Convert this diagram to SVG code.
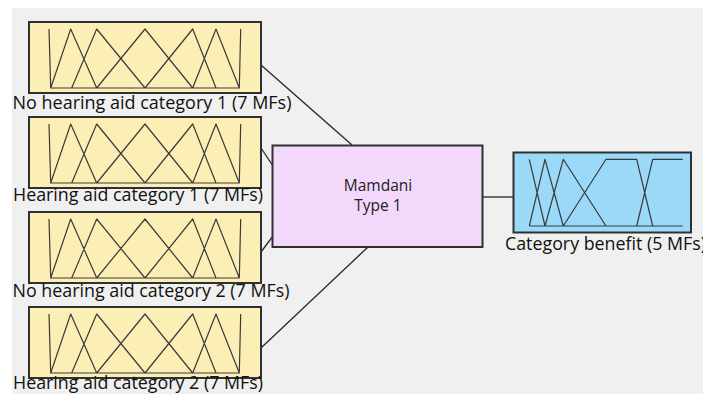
<svg xmlns="http://www.w3.org/2000/svg" width="703" height="394" viewBox="0 0 703 394">
  <defs>
    <style>
      .bg { fill: #f0f0f0; }
      .inbox { fill: #fcefb6; stroke: #303030; stroke-width: 2; }
      .fis { fill: #f2d8fa; stroke: #303030; stroke-width: 2; }
      .outbox { fill: #9bd9f9; stroke: #303030; stroke-width: 2; }
      .mf { fill: none; stroke: #3a3a3a; stroke-width: 1.2; stroke-linejoin: round; }
      .conn { fill: none; stroke: #262626; stroke-width: 1.3; }
      .lbl { font-family: "Open Sans", "Noto Sans", sans-serif; font-size: 17.5px; fill: #111; }
      .ctr { font-family: "Open Sans", "Noto Sans", sans-serif; font-size: 15.5px; fill: #222; text-anchor: middle; }
    </style>
    <path id="mf7" class="mf" d="M50.7,66 H239.3 M49,7 L50.7,66 L70.7,7 L96.7,66 M71.7,66 L96.7,7 L145,66 M96.7,66 L145,7 L192.7,66 M145,66 L192.7,7 L216,66 M192.7,66 L216,7 L239.3,66 L240.7,7"/>
  </defs>
  <rect x="0" y="0" width="703" height="394" fill="#ffffff"/>
  <rect class="bg" x="12" y="8" width="691" height="386"/>

  <g id="connectors">
    <line class="conn" x1="261" y1="65" x2="352" y2="145"/>
    <line class="conn" x1="261" y1="148" x2="273" y2="166"/>
    <line class="conn" x1="261" y1="252" x2="273" y2="236"/>
    <line class="conn" x1="261" y1="348" x2="368" y2="247"/>
    <line class="conn" x1="483" y1="197" x2="514" y2="197"/>
  </g>

  <g id="input1">
    <rect class="inbox" x="29" y="22" width="232" height="71"/>
    <use href="#mf7" transform="translate(0,22)"/>
    <text class="lbl" x="12.5" y="109" textLength="279" lengthAdjust="spacingAndGlyphs">No hearing aid category 1 (7 MFs)</text>
  </g>
  <g id="input2">
    <rect class="inbox" x="29" y="117" width="232" height="71"/>
    <use href="#mf7" transform="translate(0,117)"/>
    <text class="lbl" x="13" y="201" textLength="250" lengthAdjust="spacingAndGlyphs">Hearing aid category 1 (7 MFs)</text>
  </g>
  <g id="input3">
    <rect class="inbox" x="29" y="212" width="232" height="71"/>
    <use href="#mf7" transform="translate(0,212)"/>
    <text class="lbl" x="12.5" y="297" textLength="277" lengthAdjust="spacingAndGlyphs">No hearing aid category 2 (7 MFs)</text>
  </g>
  <g id="input4">
    <rect class="inbox" x="29" y="307" width="232" height="71"/>
    <use href="#mf7" transform="translate(0,307)"/>
    <text class="lbl" x="13" y="388.5" textLength="250" lengthAdjust="spacingAndGlyphs">Hearing aid category 2 (7 MFs)</text>
  </g>

  <g id="mamdani">
    <rect class="fis" x="272.5" y="145.5" width="210" height="101.5"/>
    <text class="ctr" x="378" y="191">Mamdani</text>
    <text class="ctr" x="378" y="211">Type 1</text>
  </g>

  <g id="output">
    <rect class="outbox" x="513.5" y="152.5" width="177.5" height="80"/>
    <path class="mf" d="M529.3,226 H682.7 M529.3,159.3 L545,226 M529.3,226 L545,159.3 L563.3,226 M545,226 L563.3,159.3 L606,226 M563.3,226 L606,159.3 H636.7 L652.7,226 M636.7,226 L652.7,159.3 H682.7"/>
    <text class="lbl" x="505" y="250" textLength="201" lengthAdjust="spacingAndGlyphs">Category benefit (5 MFs)</text>
  </g>
</svg>
